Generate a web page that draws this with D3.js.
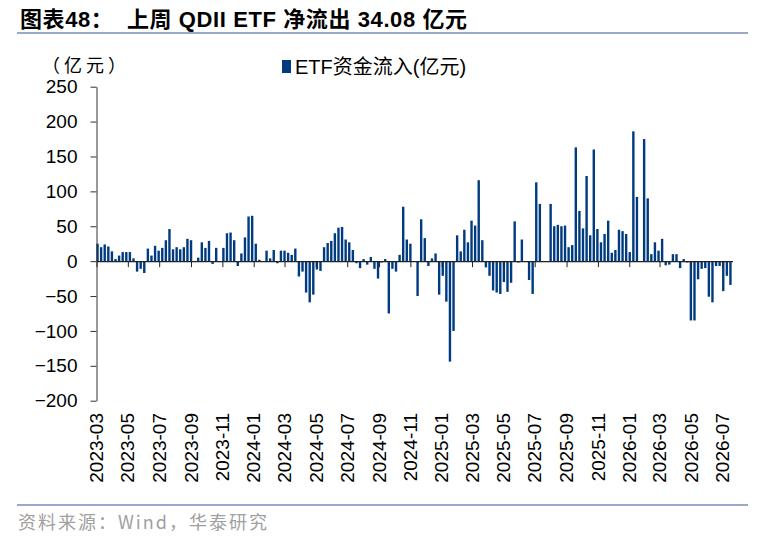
<!DOCTYPE html>
<html>
<head>
<meta charset="utf-8">
<script src="https://cdn.jsdelivr.net/npm/d3@7/dist/d3.min.js"></script>
<style>
  body { margin: 0; background: #fff; }
  svg { display: block; font-family: "Liberation Sans", Arial, "Noto Sans CJK SC", sans-serif; }
</style>
</head>
<body>
<svg id="chart" width="769" height="539"></svg>
<script>
// weekly net inflow of QDII ETFs (亿元), one bar per week from 2023-03-03
var firstWeek = new Date(2023, 2, 3);
var inflow = [
  25, 20, 24, 21, 14, 3, 8, 13, 13, 13, 4, -15, -11, -17, 18, 8, 22, 15, 19, 30,
  46, 17, 20, 17, 20, 32, 30, 0, 5, 27, 19, 29, -4, 19, 0, 19, 40, 41, 30, -7,
  11, 34, 64, 65, 25, 2, 0, 15, 4, 16, -3, 15, 15, 12, 9, 18, -22, -15, -45, -59,
  -48, -12, -14, 20, 26, 29, 40, 48, 49, 31, 27, 16, -3, -10, 3, -5, 6, -11, -25, -2,
  3, -75, -11, -15, 9, 78, 31, 25, 0, -50, 60, 33, -7, 4, 11, -48, -21, -58, -144, -100,
  37, 14, 45, 27, 58, 51, 116, 30, -9, -21, -42, -45, -47, -30, -44, -31, 57, -2, 31, 0,
  -27, -47, 113, 82, 0, 0, 82, 50, 52, 50, 51, 20, 23, 163, 72, 47, 122, 37, 160, 46,
  27, 39, 58, 12, 16, 45, 43, 39, 13, 186, 92, 0, 175, 90, 10, 27, 15, 32, -6, -5,
  10, 10, -10, 3, -2, -85, -85, -26, -11, -10, -51, -59, -7, -7, -43, -21, -34.08
];
var yTicks = [250, 200, 150, 100, 50, 0, -50, -100, -150, -200];
var seriesName = "ETF资金流入(亿元)";
var unitLabel = "（亿元）";
var title = "图表48：  上周 QDII ETF 净流出 34.08 亿元";
var source = "资料来源：Wind，华泰研究";

var weeks = inflow.map(function(v, i) { return d3.timeDay.offset(firstWeek, i * 7); });
var data = inflow.map(function(v, i) { return {date: weeks[i], value: v}; });

var barColor = "#003b80";
var ruleColor = "#97abc9";

var svg = d3.select("#chart");

var x = d3.scaleTime()
  .domain([new Date(2023, 2, 1), new Date(2026, 6, 21)])
  .range([96.5, 732.5]);
var y = d3.scaleLinear()
  .domain([-200, 250])
  .range([400.7, 86.7]);

// title + rules
svg.append("text")
  .attr("x", 20).attr("y", 27)
  .style("font-size", "22px").style("font-weight", "bold")
  .style("letter-spacing", "0.6px")
  .style("font-family", "'Liberation Sans', 'Noto Sans CJK SC', sans-serif")
  .attr("xml:space", "preserve")
  .text(title);
svg.append("line")
  .attr("x1", 17).attr("x2", 748).attr("y1", 33).attr("y2", 33)
  .attr("stroke", ruleColor).attr("stroke-width", 2);
svg.append("line")
  .attr("x1", 17).attr("x2", 748).attr("y1", 505).attr("y2", 505)
  .attr("stroke", ruleColor).attr("stroke-width", 2);

svg.append("text")
  .attr("x", 18).attr("y", 529)
  .style("font-size", "18px").style("fill", "#a0a0a0")
  .style("letter-spacing", "2px")
  .style("font-family", "'Noto Sans CJK SC', sans-serif")
  .text(source);

svg.append("text")
  .attr("x", 42).attr("y", 72)
  .style("font-size", "18px")
  .style("letter-spacing", "4px")
  .style("font-family", "'Noto Sans CJK SC', sans-serif")
  .text(unitLabel);

// legend
svg.append("rect")
  .attr("x", 282).attr("y", 60).attr("width", 9).attr("height", 13)
  .attr("fill", barColor);
svg.append("text")
  .attr("x", 295).attr("y", 74)
  .style("font-size", "20px")
  .text(seriesName);

// bars
var bw = 2.4;
svg.append("g").selectAll("rect")
  .data(data)
  .join("rect")
  .attr("x", function(d) { return x(d.date) - bw / 2; })
  .attr("y", function(d) { return y(Math.max(0, d.value)); })
  .attr("width", bw)
  .attr("height", function(d) { return Math.abs(y(d.value) - y(0)); })
  .attr("fill", barColor);

// y axis
var yAxis = svg.append("g")
  .attr("transform", "translate(96.5,0)")
  .call(d3.axisLeft(y).tickValues(yTicks).tickSize(6).tickSizeOuter(0).tickPadding(13));
yAxis.select(".domain").attr("stroke", "#333");
yAxis.selectAll(".tick line").attr("stroke", "#333");
yAxis.selectAll("text")
  .style("font-size", "19px")
  .style("font-family", "'Liberation Sans', Arial, sans-serif")
  .attr("fill", "#000");

// x axis on zero line, labels at bottom
var monthTicks = d3.timeMonth.every(2).range(new Date(2023, 2, 1), new Date(2026, 6, 2));
var xAxis = svg.append("g")
  .attr("transform", "translate(0," + y(0) + ")")
  .call(d3.axisBottom(x).tickValues(monthTicks).tickSize(6).tickSizeOuter(0).tickFormat(""));
xAxis.select(".domain").attr("stroke", "#222").attr("stroke-width", 1.2);
xAxis.selectAll(".tick line").attr("stroke", "#222");

var fmt = d3.timeFormat("%Y-%m");
svg.append("g").selectAll("text")
  .data(monthTicks)
  .join("text")
  .attr("transform", function(d) { return "translate(" + x(d) + ",413) rotate(-90)"; })
  .attr("text-anchor", "end")
  .attr("dy", "0.35em")
  .style("font-size", "19px")
  .style("font-family", "'Liberation Sans', Arial, sans-serif")
  .text(fmt);
</script>
</body>
</html>
